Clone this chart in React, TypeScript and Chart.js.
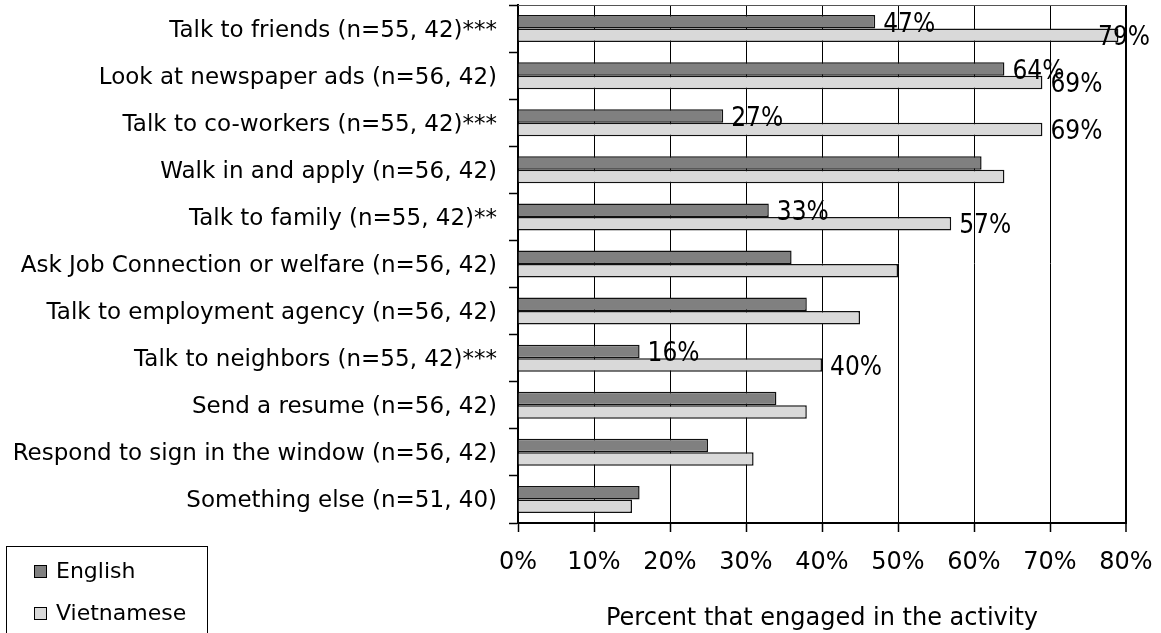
import React, { useEffect, useRef } from "react";
import { Chart, registerables } from "chart.js";

Chart.register(...registerables);

const categories = [
  "Talk to friends (n=55, 42)***",
  "Look at newspaper ads (n=56, 42)",
  "Talk to co-workers (n=55, 42)***",
  "Walk in and apply (n=56, 42)",
  "Talk to family (n=55, 42)**",
  "Ask Job Connection or welfare (n=56, 42)",
  "Talk to employment agency (n=56, 42)",
  "Talk to neighbors (n=55, 42)***",
  "Send a resume (n=56, 42)",
  "Respond to sign in the window (n=56, 42)",
  "Something else (n=51, 40)",
];

const englishValues = [47, 64, 27, 61, 33, 36, 38, 16, 34, 25, 16];
const vietnameseValues = [79, 69, 69, 64, 57, 50, 45, 40, 38, 31, 15];
const labelledRows = [true, true, true, false, true, false, false, true, false, false, false];
const xTickValues = [0, 10, 20, 30, 40, 50, 60, 70, 80];
const seriesNames = ["English", "Vietnamese"];
const seriesColors = ["#808080", "#d9d9d9"];
const xTitle = "Percent that engaged in the activity";

const FONT = '"DejaVu Sans", sans-serif';

const extrasPlugin = {
  id: "extras",
  afterDatasetsDraw(chart: any) {
    const ctx = chart.ctx;
    const area = chart.chartArea;
    ctx.save();
    // top border of plot area
    ctx.strokeStyle = "#555555";
    ctx.lineWidth = 1;
    ctx.beginPath();
    ctx.moveTo(area.left, Math.round(area.top) + 0.5);
    ctx.lineTo(area.right, Math.round(area.top) + 0.5);
    ctx.stroke();

    // data labels
    ctx.font = '26px "DejaVu Sans Condensed", "DejaVu Sans", sans-serif';
    try {
      (ctx as any).fontStretch = "condensed";
    } catch (e) {}
    ctx.fillStyle = "#000";
    ctx.textAlign = "left";
    ctx.textBaseline = "middle";
    chart.data.datasets.forEach((ds: any, di: number) => {
      const meta = chart.getDatasetMeta(di);
      meta.data.forEach((bar: any, i: number) => {
        if (!labelledRows[i]) return;
        const text = ds.data[i] + "%";
        const w = ctx.measureText(text).width;
        let x = bar.x + 8;
        if (x + w > chart.width - 11) x = chart.width - 11 - w;
        ctx.fillText(text, x, bar.y + 3);
      });
    });
    ctx.restore();
  },
  afterDraw(chart: any) {
    const ctx = chart.ctx;
    ctx.save();
    // legend box
    ctx.strokeStyle = "#000";
    ctx.lineWidth = 1;
    ctx.strokeRect(6.5, 546.5, 201, 120);
    ctx.font = "22px " + FONT;
    ctx.textAlign = "left";
    ctx.textBaseline = "middle";
    const rows = [571, 613];
    chart.data.datasets.forEach((ds: any, di: number) => {
      const cy = rows[di];
      ctx.fillStyle = ds.backgroundColor;
      ctx.fillRect(34, cy - 6, 13, 13);
      ctx.strokeStyle = "#000";
      ctx.strokeRect(34.5, cy - 5.5, 12, 12);
      ctx.fillStyle = "#000";
      ctx.fillText(ds.label, 56, cy + 1);
    });
    ctx.restore();
  },
};

export default function App() {
  const ref = useRef<HTMLCanvasElement>(null);
  useEffect(() => {
    if (!ref.current) return;
    const chart = new Chart(ref.current, {
      type: "bar",
      data: {
        labels: categories,
        datasets: [
          {
            label: seriesNames[0],
            data: englishValues,
            backgroundColor: seriesColors[0],
            borderColor: "#111",
            borderWidth: 1.5,
            categoryPercentage: 0.573,
            barPercentage: 1,
          },
          {
            label: seriesNames[1],
            data: vietnameseValues,
            backgroundColor: seriesColors[1],
            borderColor: "#111",
            borderWidth: 1.5,
            categoryPercentage: 0.573,
            barPercentage: 1,
          },
        ],
      },
      options: {
        indexAxis: "y",
        animation: false,
        responsive: false,
        layout: { padding: { top: 5, right: 35, left: 0, bottom: 0 } },
        plugins: {
          legend: { display: false },
          tooltip: { enabled: false },
        },
        scales: {
          x: {
            type: "linear",
            min: 0,
            max: 80,
            afterBuildTicks: (scale: any) => {
              scale.ticks = xTickValues.map((v) => ({ value: v }));
            },
            afterFit: (scale: any) => {
              scale.height = 110;
              scale.paddingLeft = 0;
              scale.paddingRight = 0;
              scale.paddingTop = 0;
              scale.paddingBottom = 0;
            },
            ticks: {
              callback: (v: any) => v + "%",
              font: { family: FONT, size: 24 },
              color: "#000",
              padding: 16,
              maxRotation: 0,
            },
            grid: {
              color: "#000",
              lineWidth: (c: any) => (c.tick && c.tick.value === 80 ? 2 : 1),
              tickLength: 9,
              tickColor: "#000",
              tickWidth: 1.5,
            },
            border: { display: true, color: "#000", width: 2 },
            title: {
              display: true,
              text: xTitle,
              font: { family: FONT, size: 24 },
              color: "#000",
              padding: { top: 0, bottom: 0 },
            },
          },
          y: {
            type: "category",
            afterFit: (scale: any) => {
              scale.width = 518;
              scale.paddingLeft = 0;
              scale.paddingRight = 0;
              scale.paddingTop = 0;
              scale.paddingBottom = 0;
            },
            ticks: {
              font: { family: FONT, size: 23 },
              color: "#000",
              padding: 12,
              labelOffset: 2,
              autoSkip: false,
            },
            grid: {
              display: true,
              drawOnChartArea: false,
              drawTicks: true,
              offset: true,
              tickLength: 9,
              color: "#000",
              tickColor: "#000",
              tickWidth: 1.5,
            },
            border: { display: true, color: "#000", width: 2 },
          },
        },
      },
      plugins: [extrasPlugin],
    } as any);
    return () => chart.destroy();
  }, []);
  return (
    <canvas
      ref={ref}
      width={1161}
      height={633}
      style={{ position: "absolute", left: 0, top: 0, width: 1161, height: 633 }}
    />
  );
}
